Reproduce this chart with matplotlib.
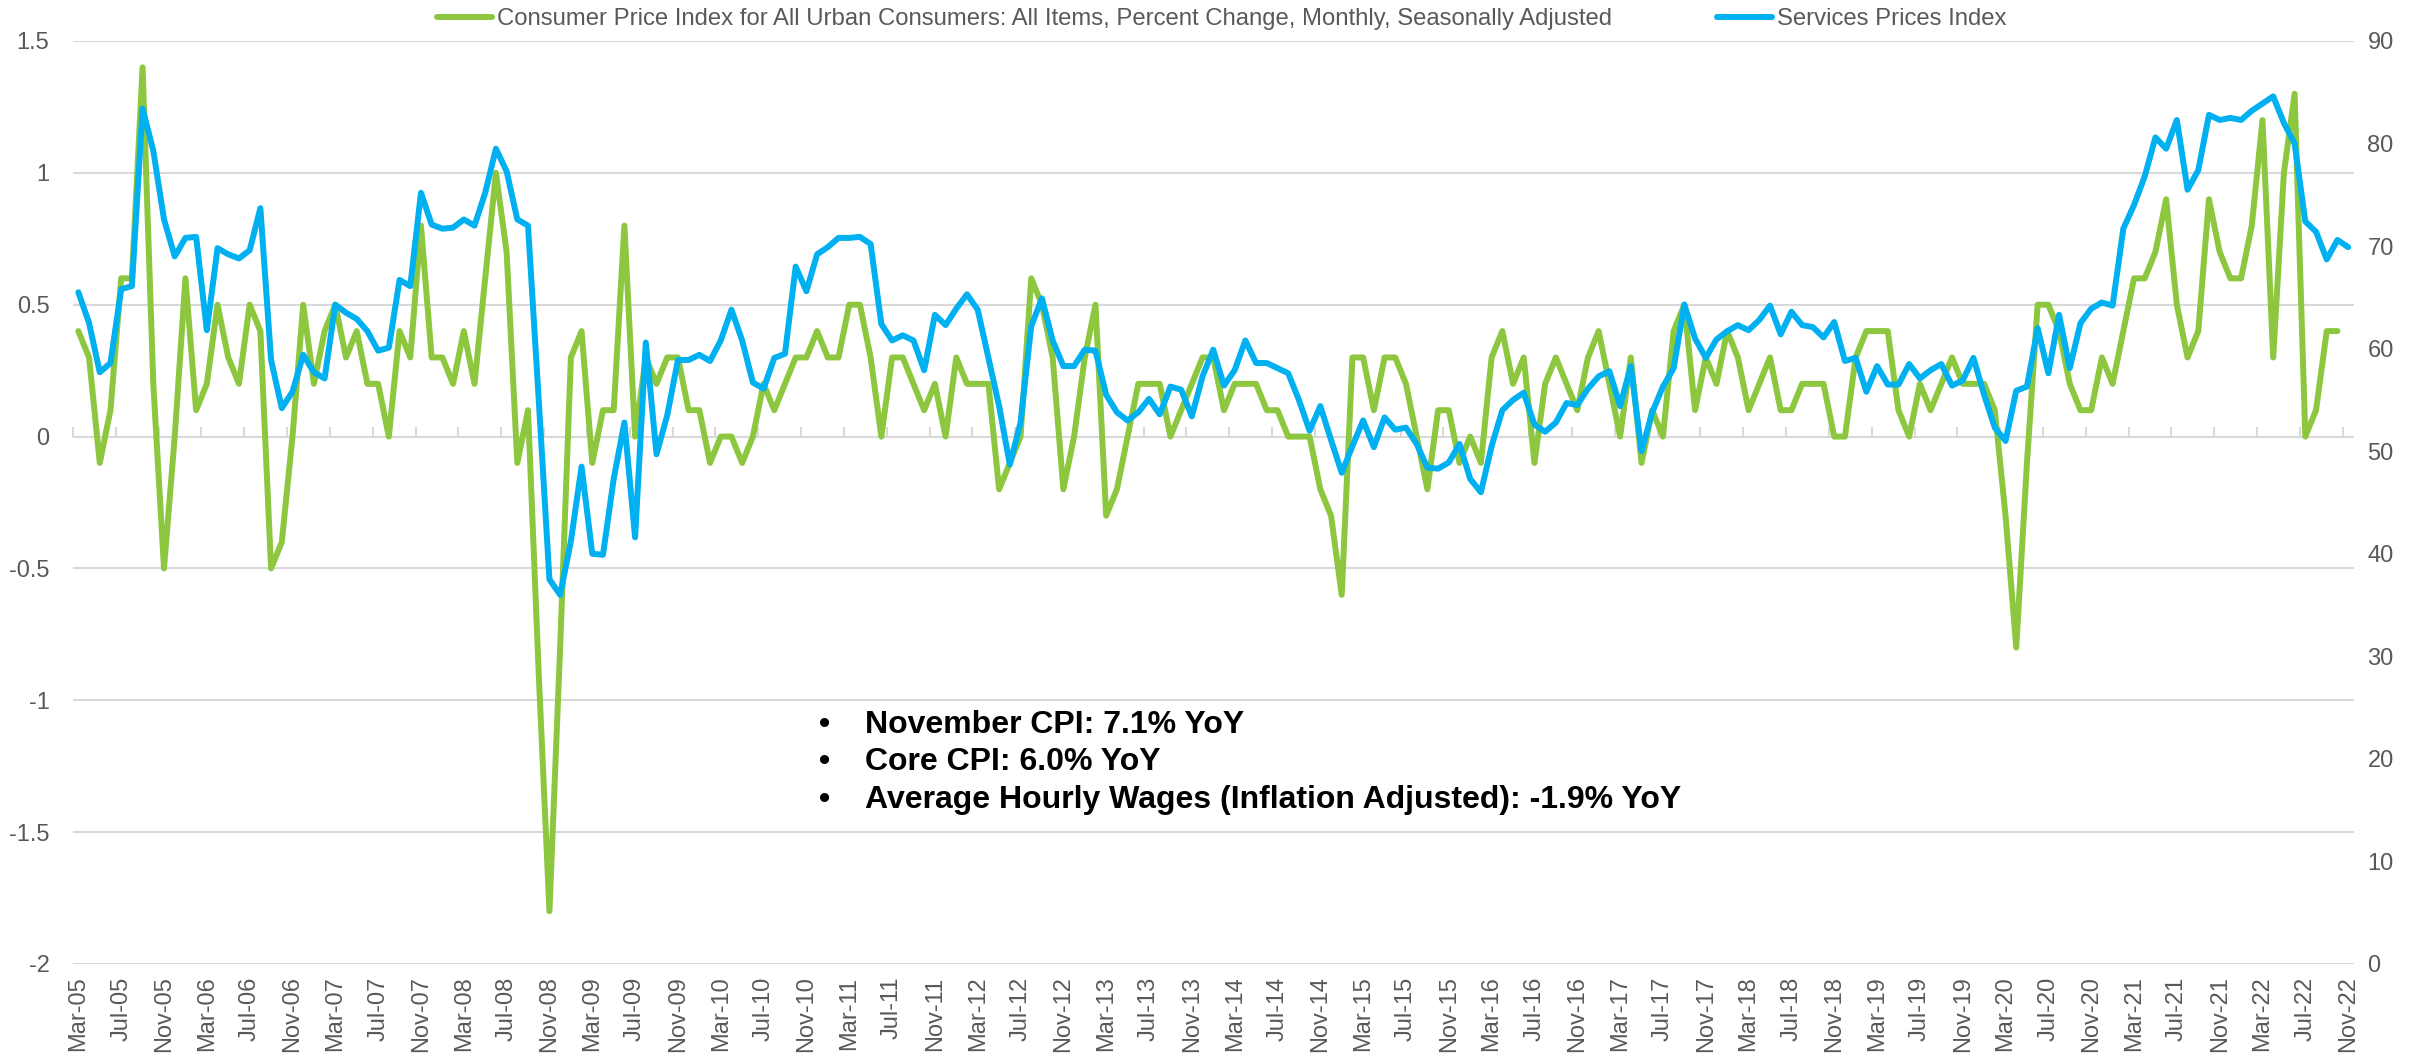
"""
CPI monthly change vs services prices index
"""

import matplotlib

matplotlib.use("Agg")
import matplotlib.pyplot as plt
import numpy as np
import pandas as pd
from matplotlib.lines import Line2D
from matplotlib.ticker import FuncFormatter, NullFormatter

plt.rcParams["font.family"] = ["Liberation Sans", "DejaVu Sans"]
plt.rcParams["axes.unicode_minus"] = False

## Monthly categories Mar-05 .. Nov-22
months = pd.date_range("2005-03-01", "2022-11-01", freq="MS").strftime("%b-%y").tolist()

## CPI all items, % change m/m (Mar-05 .. Oct-22)
cpi_mom = [
    0.4, 0.3, -0.1, 0.1, 0.6, 0.6, 1.4, 0.2, -0.5, 0.0,
    0.6, 0.1, 0.2, 0.5, 0.3, 0.2, 0.5, 0.4, -0.5, -0.4, 0.0, 0.5,
    0.2, 0.4, 0.5, 0.3, 0.4, 0.2, 0.2, 0.0, 0.4, 0.3, 0.8, 0.3,
    0.3, 0.2, 0.4, 0.2, 0.6, 1.0, 0.7, -0.1, 0.1, -0.9, -1.8, -0.8,
    0.3, 0.4, -0.1, 0.1, 0.1, 0.8, 0.0, 0.3, 0.2, 0.3, 0.3, 0.1,
    0.1, -0.1, 0.0, 0.0, -0.1, 0.0, 0.2, 0.1, 0.2, 0.3, 0.3, 0.4,
    0.3, 0.3, 0.5, 0.5, 0.3, 0.0, 0.3, 0.3, 0.2, 0.1, 0.2, 0.0,
    0.3, 0.2, 0.2, 0.2, -0.2, -0.1, 0.0, 0.6, 0.5, 0.3, -0.2, 0.0,
    0.3, 0.5, -0.3, -0.2, 0.0, 0.2, 0.2, 0.2, 0.0, 0.1, 0.2, 0.3,
    0.3, 0.1, 0.2, 0.2, 0.2, 0.1, 0.1, 0.0, 0.0, 0.0, -0.2, -0.3,
    -0.6, 0.3, 0.3, 0.1, 0.3, 0.3, 0.2, 0.0, -0.2, 0.1, 0.1, -0.1,
    0.0, -0.1, 0.3, 0.4, 0.2, 0.3, -0.1, 0.2, 0.3, 0.2, 0.1, 0.3,
    0.4, 0.2, 0.0, 0.3, -0.1, 0.1, 0.0, 0.4, 0.5, 0.1, 0.3, 0.2,
    0.4, 0.3, 0.1, 0.2, 0.3, 0.1, 0.1, 0.2, 0.2, 0.2, 0.0, 0.0,
    0.3, 0.4, 0.4, 0.4, 0.1, 0.0, 0.2, 0.1, 0.2, 0.3, 0.2, 0.2,
    0.2, 0.1, -0.3, -0.8, -0.1, 0.5, 0.5, 0.4, 0.2, 0.1, 0.1, 0.3,
    0.2, 0.4, 0.6, 0.6, 0.7, 0.9, 0.5, 0.3, 0.4, 0.9, 0.7, 0.6,
    0.6, 0.8, 1.2, 0.3, 1.0, 1.3, 0.0, 0.1, 0.4, 0.4,
]

## Services prices index (Mar-05 .. Nov-22)
services_prices = [
    65.5, 62.5, 57.7, 58.6, 65.8, 66.1, 83.4, 79.3, 72.6, 69.0,
    70.8, 70.9, 61.8, 69.8, 69.2, 68.8, 69.6, 73.7, 58.9, 54.2, 55.8, 59.4,
    57.7, 57.1, 64.3, 63.5, 62.9, 61.7, 59.8, 60.1, 66.7, 66.1, 75.2, 72.1,
    71.7, 71.8, 72.6, 72.0, 75.2, 79.5, 77.3, 72.6, 72.0, 55.0, 37.5, 36.0,
    41.2, 48.5, 40.0, 39.9, 47.3, 52.8, 41.6, 60.6, 49.7, 53.5, 58.9, 58.9,
    59.4, 58.8, 60.8, 63.8, 60.8, 56.7, 56.1, 59.1, 59.5, 68.0, 65.6, 69.2,
    69.9, 70.8, 70.8, 70.9, 70.2, 62.4, 60.8, 61.3, 60.8, 57.9, 63.3, 62.3,
    63.9, 65.3, 63.8, 59.1, 54.4, 48.7, 52.8, 62.2, 64.9, 60.8, 58.3, 58.3,
    59.9, 59.8, 55.5, 53.8, 53.0, 53.8, 55.1, 53.6, 56.3, 56.0, 53.4, 57.3,
    59.9, 56.4, 57.9, 60.8, 58.6, 58.6, 58.1, 57.6, 55.0, 52.0, 54.4, 51.1,
    47.9, 50.5, 53.0, 50.4, 53.3, 52.1, 52.3, 50.7, 48.4, 48.3, 48.9, 50.7,
    47.3, 46.0, 50.5, 54.0, 55.0, 55.7, 52.6, 51.9, 52.8, 54.7, 54.5, 56.1,
    57.3, 57.8, 54.4, 58.3, 50.0, 53.8, 56.3, 58.1, 64.3, 61.0, 59.1, 60.9,
    61.7, 62.3, 61.8, 62.8, 64.2, 61.4, 63.6, 62.3, 62.1, 61.1, 62.6, 58.8,
    59.1, 55.8, 58.3, 56.5, 56.5, 58.5, 57.1, 57.9, 58.5, 56.4, 56.9, 59.1,
    55.5, 52.3, 51.0, 55.9, 56.3, 62.0, 57.6, 63.3, 58.1, 62.5, 63.9, 64.5,
    64.2, 71.7, 74.0, 76.8, 80.6, 79.5, 82.3, 75.5, 77.4, 82.8, 82.3, 82.5,
    82.3, 83.2, 83.9, 84.6, 82.0, 80.0, 72.4, 71.4, 68.7, 70.6, 69.9,
]

cpi_label = (
    "Consumer Price Index for All Urban Consumers: All Items, "
    "Percent Change, Monthly, Seasonally Adjusted"
)
services_label = "Services Prices Index"
notes = [
    "November CPI: 7.1% YoY",
    "Core CPI: 6.0% YoY",
    "Average Hourly Wages (Inflation Adjusted): -1.9% YoY",
]

GREEN = "#8DC63F"
BLUE = "#00B0F0"
GRID = "#D9D9D9"
TEXT = "#595959"


def plot_data() -> None:
    W, H = 2425, 1057
    fig = plt.figure(figsize=(W / 100, H / 100), dpi=100)
    ax = fig.add_axes([73 / W, 1 - 964 / H, (2353.5 - 73) / W, (964 - 41) / H])

    n = len(months)
    ax.plot(np.arange(len(cpi_mom)), cpi_mom, color=GREEN, lw=4.3,
            solid_joinstyle="round", solid_capstyle="round")
    ax.set_xlim(-0.5, n - 0.5)
    ax.set_ylim(-2.0, 1.5)
    ax.set_yticks(np.arange(-2.0, 1.51, 0.5))
    ax.yaxis.set_major_formatter(FuncFormatter(lambda v, _: f"{v:g}"))
    ax.grid(axis="y", color=GRID, lw=1.5)
    ax.set_axisbelow(True)
    for s in ax.spines.values():
        s.set_visible(False)
    ax.tick_params(axis="y", length=0, pad=17, labelsize=17, labelcolor=TEXT)
    ax.set_xticks(np.arange(0, n, 4))
    ax.set_xticklabels(months[::4], rotation=90)
    ax.tick_params(axis="x", length=0, pad=9, labelsize=17, labelcolor=TEXT)

    # category tick marks on the zero line
    sec = ax.secondary_xaxis(2.0 / 3.5)
    sec.set_xticks(np.arange(-0.5, n, 4))
    sec.xaxis.set_major_formatter(NullFormatter())
    sec.tick_params(axis="x", direction="out", length=7, width=1.5, color=GRID)
    for s in sec.spines.values():
        s.set_visible(False)

    ax2 = ax.twinx()
    ax2.plot(np.arange(len(services_prices)), services_prices, color=BLUE,
             lw=4.3, solid_joinstyle="round", solid_capstyle="round")
    ax2.set_ylim(0, 90)
    ax2.set_yticks(np.arange(0, 91, 10))
    for s in ax2.spines.values():
        s.set_visible(False)
    ax2.tick_params(axis="y", length=0, pad=10, labelsize=17, labelcolor=TEXT)

    handles = [
        Line2D([], [], color=GREEN, lw=4.3, solid_capstyle="round"),
        Line2D([], [], color=BLUE, lw=4.3, solid_capstyle="round"),
    ]
    fig.legend(handles, [cpi_label, services_label], loc="center",
               bbox_to_anchor=(0.5037, 1 - 19 / H), ncol=2, frameon=False,
               fontsize=17.2, labelcolor=TEXT, handlelength=2.3,
               handletextpad=0.2, columnspacing=4.4)

    for k, line in enumerate(notes):
        y = 1 - (725 + 37.5 * k) / H
        fig.text(825 / W, y, "\u2022", ha="center", va="center",
                 fontsize=23, fontweight="bold")
        fig.text(865 / W, y, line, ha="left", va="center",
                 fontsize=23, fontweight="bold")

    fig.savefig("out.png", dpi=100)


if __name__ == "__main__":
    plot_data()
